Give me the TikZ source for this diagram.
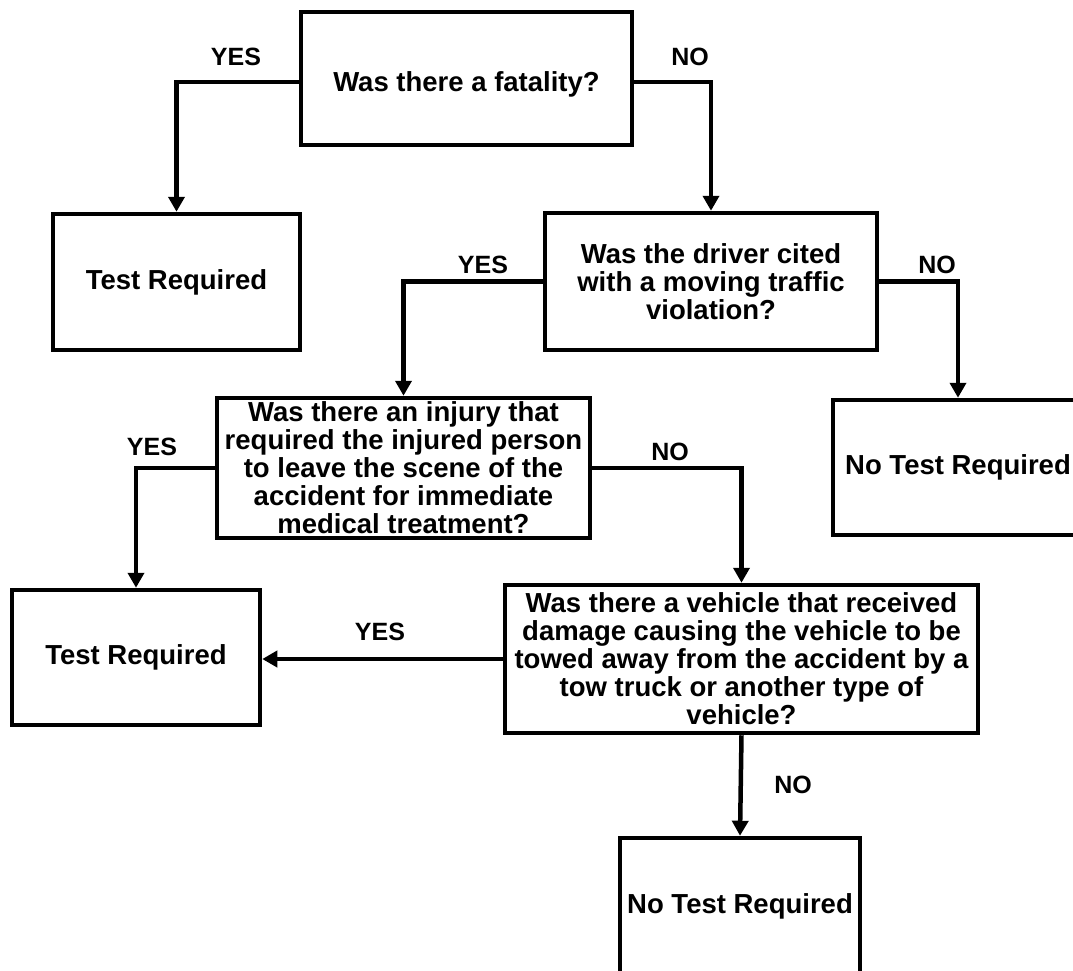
\documentclass[tikz,border=0pt]{standalone}
\usepackage{fontspec}
\setmainfont{Liberation Sans}
\usetikzlibrary{arrows.meta}
\begin{document}
\begin{tikzpicture}[x=1pt,y=-1pt,
  box/.style={draw=black,line width=4.5pt,align=center,inner sep=0pt,
    font=\fontsize{27.5}{28}\selectfont\bfseries},
  arr/.style={line width=4.5pt,-{Triangle[width=16pt,length=15pt]}},
  lbl/.style={font=\fontsize{25}{28}\selectfont\bfseries,inner sep=0pt}]
\useasboundingbox (0,0) rectangle (1073,970);
\fill[white] (0,0) rectangle (1073,970);
\node[box,minimum width=331pt,minimum height=133pt,text height=32pt,text depth=6pt] (b1) at (466.5,78.5) {Was there a fatality?};
\node[box,minimum width=247pt,minimum height=136pt] (b2) at (176.5,282) {Test Required};
\node[box,minimum width=332pt,minimum height=137pt] (b3) at (711,281.5) {Was the driver cited\\with a moving traffic\\violation?};
\node[box,minimum width=250pt,minimum height=135pt] (b5) at (958,467.5) {No Test Required};
\node[box,minimum width=373pt,minimum height=140pt] (b4) at (403.5,468) {Was there an injury that\\required the injured person\\to leave the scene of the\\accident for immediate\\medical treatment?};
\node[box,minimum width=248pt,minimum height=135pt] (b6) at (136,657.5) {Test Required};
\node[box,minimum width=473pt,minimum height=148pt] (b7) at (741.5,659) {Was there a vehicle that received\\damage causing the vehicle to be\\towed away from the accident by a\\tow truck or another type of\\vehicle?};
\node[box,minimum width=240pt,minimum height=136pt] (b8) at (740,906) {No Test Required};
\coordinate (o1w) at ([yshift=-3.5pt]b1.west);
\coordinate (o1e) at ([yshift=-3.5pt]b1.east);
\draw[arr] (o1w) -| (b2.north);
\draw[arr] (o1e) -| (b3.north);
\draw[arr] (b3.west) -| (b4.north);
\draw[arr] (b3.east) -| (b5.north);
\draw[arr] (b4.west) -| (b6.north);
\draw[arr] (b4.east) -| (b7.north);
\draw[arr] (b7.west) -- (b7.west -| b6.east);
\draw[arr] (b7.south) -- (b8.north);
\node[lbl] (l1) at (236,57) {YES};
\node[lbl] (l2) at (690,57) {NO};
\node[lbl] (l3) at (483,265) {YES};
\node[lbl] (l4) at (937,265) {NO};
\node[lbl] (l5) at (152,447) {YES};
\node[lbl] (l6) at (670,452) {NO};
\node[lbl] (l7) at (380,632) {YES};
\node[lbl] (l8) at (793,785) {NO};
\end{tikzpicture}
\end{document}
